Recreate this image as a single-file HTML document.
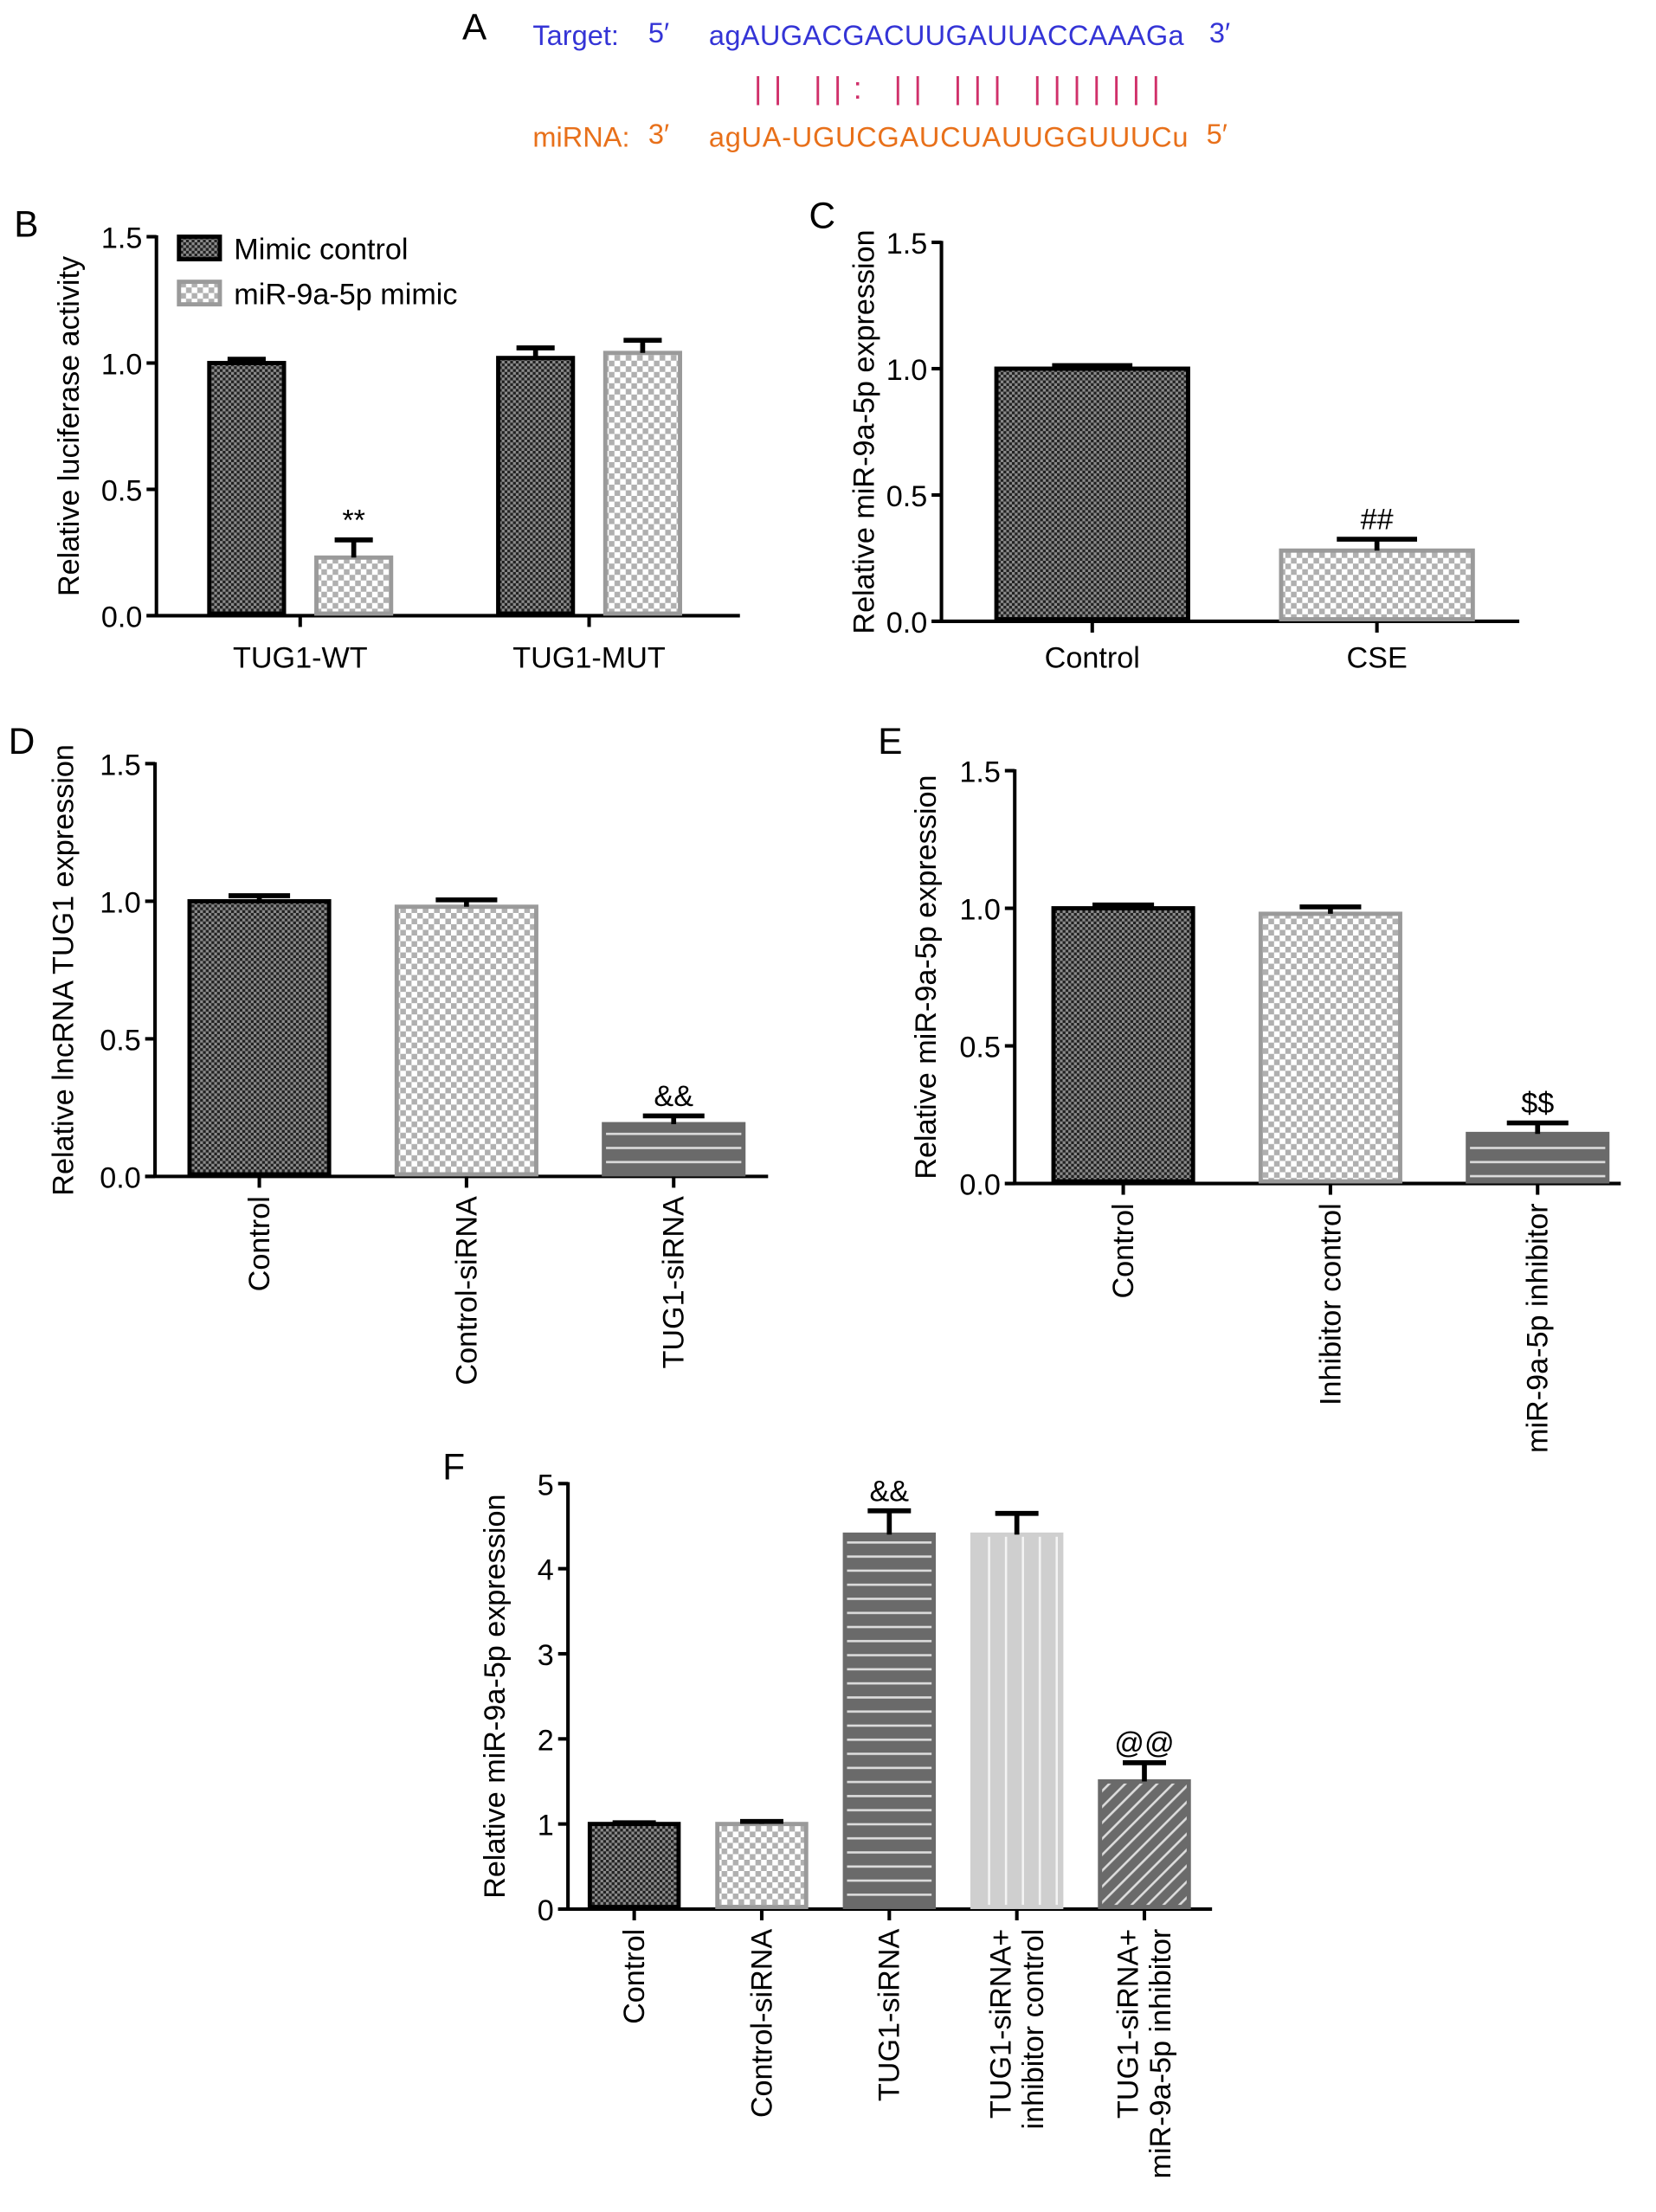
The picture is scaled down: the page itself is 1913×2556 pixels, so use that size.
<!DOCTYPE html>
<html><head><meta charset="utf-8"><style>
html,body{margin:0;padding:0;background:#fff;}
svg{display:block;font-family:"Liberation Sans",Arial,sans-serif;}
</style></head><body>
<svg id="fig" width="1913" height="2556" viewBox="0 0 1175 1570" preserveAspectRatio="none" xmlns="http://www.w3.org/2000/svg">
<defs>
<pattern id="pDark" width="4" height="4" patternUnits="userSpaceOnUse"><rect width="4" height="4" fill="#222"/><rect width="2" height="2" fill="#8a8a8a"/><rect x="2" y="2" width="2" height="2" fill="#8a8a8a"/></pattern>
<pattern id="pLight" width="8" height="8" patternUnits="userSpaceOnUse"><rect width="8" height="8" fill="#fff"/><rect width="4" height="4" fill="#b0b0b0"/><rect x="4" y="4" width="4" height="4" fill="#b0b0b0"/></pattern>
<pattern id="pHoriz" width="10" height="10" patternUnits="userSpaceOnUse"><rect width="10" height="10" fill="#6a6a6a"/><rect y="4" width="10" height="1.6" fill="#ddd"/></pattern>
<pattern id="pVert" width="12" height="10" patternUnits="userSpaceOnUse"><rect width="12" height="10" fill="#cfcfcf"/><rect x="5" width="1.6" height="10" fill="#f4f4f4"/></pattern>
<pattern id="pDiag" width="8" height="8" patternUnits="userSpaceOnUse" patternTransform="rotate(45)"><rect width="8" height="8" fill="#6a6a6a"/><rect x="3" width="1.6" height="8" fill="#ddd"/></pattern>
</defs>
<g font-size="20">
<text x="328" y="28" font-size="26">A</text>
<text x="378" y="32" fill="#3434d6">Target:</text>
<text x="460" y="30" fill="#3434d6">5′</text>
<text x="503" y="32" fill="#3434d6" textLength="337">agAUGACGACUUGAUUACCAAAGa</text>
<text x="858" y="30" fill="#3434d6">3′</text>
<text x="535" y="70" fill="#d0306a" font-size="22" textLength="288">|| ||: || ||| |||||||</text>
<text x="378" y="104" fill="#e8701a">miRNA:</text>
<text x="460" y="102" fill="#e8701a">3′</text>
<text x="503" y="104" fill="#e8701a" textLength="340">agUA-UGUCGAUCUAUUGGUUUCu</text>
<text x="856" y="102" fill="#e8701a">5′</text>
</g>
<g id="charts"></g>
</svg>
<script>
// Panel B data
const bCats = ["TUG1-WT","TUG1-MUT"];
const bCtrl = [1.0, 1.02];
const bCtrlErr = [0.015, 0.04];
const bMimic = [0.23, 1.04];
const bMimicErr = [0.07, 0.05];
const bMarks = ["", ""];
const bMimicMarks = ["**", ""];
// Panel C
const cCats = ["Control","CSE"];
const cVals = [1.0, 0.28];
const cErr = [0.012, 0.045];
const cMarks = ["", "##"];
// Panel D
const dCats = ["Control","Control-siRNA","TUG1-siRNA"];
const dVals = [1.0, 0.98, 0.19];
const dErr = [0.02, 0.025, 0.03];
const dMarks = ["", "", "&&"];
// Panel E
const eCats = ["Control","Inhibitor control","miR-9a-5p inhibitor"];
const eVals = [1.0, 0.98, 0.18];
const eErr = [0.012, 0.025, 0.04];
const eMarks = ["", "", "$$"];
// Panel F
const fCats = [["Control"],["Control-siRNA"],["TUG1-siRNA"],["TUG1-siRNA+","inhibitor control"],["TUG1-siRNA+","miR-9a-5p inhibitor"]];
const fVals = [1.0, 1.0, 4.4, 4.4, 1.5];
const fErr = [0.015, 0.03, 0.28, 0.25, 0.22];
const fMarks = ["", "", "&&", "", "@@"];
const ticks15 = ["0.0","0.5","1.0","1.5"];
const ticks5 = ["0","1","2","3","4","5"];

const NS = "http://www.w3.org/2000/svg";
const root = document.getElementById('charts');
function mk(tag, attrs, parent, text){
  const e = document.createElementNS(NS, tag);
  for (const k in attrs) e.setAttribute(k, attrs[k]);
  if (text !== undefined) e.textContent = text;
  (parent||root).appendChild(e);
  return e;
}
const STY = {
  dark:{fill:"url(#pDark)",stroke:"#000"},
  light:{fill:"url(#pLight)",stroke:"#9a9a9a"},
  horiz:{fill:"url(#pHoriz)",stroke:"#6a6a6a"},
  vert:{fill:"url(#pVert)",stroke:"#cfcfcf"},
  diag:{fill:"url(#pDiag)",stroke:"#6a6a6a"}
};
const FS = 21;
function axes(g, L, tickLabels, ymax){
  const y = v => L.y0 - (v/ymax)*(L.y0-L.yTop);
  const ya = mk('line',{x1:L.ax,y1:L.yTop-1,x2:L.ax,y2:L.y0+1,stroke:"#000","stroke-width":2.5},g);
   
  const xa = mk('line',{x1:L.ax-7,y1:L.y0,x2:L.xEnd,y2:L.y0,stroke:"#000","stroke-width":2.5},g);
   
  tickLabels.forEach((t,i)=>{
    const v = parseFloat(t);
    mk('line',{x1:L.ax-7,y1:y(v),x2:L.ax,y2:y(v),stroke:"#000","stroke-width":2.5},g);
    const tx = mk('text',{x:L.ax-10,y:y(v)+8,"text-anchor":"end","font-size":FS},g,t);
     
  });
  const yl = mk('text',{transform:`translate(${L.ylx},${(L.yTop+L.y0)/2}) rotate(-90)`,"text-anchor":"middle","font-size":FS},g,L.ytitle);
   
  const pl = mk('text',{x:L.px,y:L.py,"font-size":26},g,L.panel);
   
  return y;
}
function bar(g, y, cx, w, v, e, style, mark){
  const s = STY[style];
  const top = y(v);
  const r = mk('rect',{x:cx-w/2,y:top,width:w,height:y(0)-top-1.5,fill:s.fill,stroke:s.stroke,"stroke-width":3},g);
   
  const et = y(v+e);
  const el = mk('path',{d:`M${cx} ${top} V${et} M${cx-w*0.18-4} ${et} H${cx+w*0.18+4}`,stroke:"#000","stroke-width":3.5,fill:"none"},g);
   
  if (mark){
    const m = mk('text',{x:cx,y:et-7,"text-anchor":"middle","font-size":FS},g,mark);
     
  }
}
function xtick(g,L,cx){ mk('line',{x1:cx,y1:L.y0,x2:cx,y2:L.y0+8,stroke:"#000","stroke-width":2.5},g); }
function rotLabel(g,L,cx,lines){
  lines.forEach((ln,j)=>{
    const off = (j-(lines.length-1)/2)*23;
    const t = mk('text',{transform:`translate(${cx+7+off},${L.y0+14}) rotate(-90)`,"text-anchor":"end","font-size":FS},g,ln);
     
  });
}

// B
(function(){
  const g = mk('g',{});  
  const L = {ax:111,xEnd:525,yTop:168,y0:437,ylx:56,ytitle:"Relative luciferase activity",panel:"B",px:10,py:168};
  const y = axes(g,L,ticks15,1.5);
  bCats.forEach((c,i)=>{
    const gc = 213 + i*205;
    bar(g,y,gc-38,53,bCtrl[i],bCtrlErr[i],'dark',bMarks[i]);
    bar(g,y,gc+38,53,bMimic[i],bMimicErr[i],'light',bMimicMarks[i]);
    xtick(g,L,gc);
    const t = mk('text',{x:gc,y:L.y0+37,"text-anchor":"middle","font-size":FS},g,c);
     
  });
  const l1 = mk('rect',{x:127,y:168,width:29,height:16,fill:"url(#pDark)",stroke:"#000","stroke-width":3},g);
   
  const t1 = mk('text',{x:166,y:184,"font-size":FS},g,"Mimic control");
   
  const l2 = mk('rect',{x:127,y:200,width:29,height:16,fill:"url(#pLight)",stroke:"#9a9a9a","stroke-width":3},g);
   
  const t2 = mk('text',{x:166,y:216,"font-size":FS},g,"miR-9a-5p mimic");
   
})();
// C
(function(){
  const g = mk('g',{});  
  const L = {ax:668,xEnd:1078,yTop:172,y0:441,ylx:620,ytitle:"Relative miR-9a-5p expression",panel:"C",px:574,py:162};
  const y = axes(g,L,ticks15,1.5);
  const st = ['dark','light'];
  cCats.forEach((c,i)=>{
    const cx = 775 + i*202;
    bar(g,y,cx,136,cVals[i],cErr[i],st[i],cMarks[i]);
    xtick(g,L,cx);
    const t = mk('text',{x:cx,y:L.y0+33,"text-anchor":"middle","font-size":FS},g,c);
     
  });
})();
// D
(function(){
  const g = mk('g',{});  
  const L = {ax:110,xEnd:545,yTop:542,y0:835,ylx:52,ytitle:"Relative lncRNA TUG1 expression",panel:"D",px:6,py:535};
  const y = axes(g,L,ticks15,1.5);
  const st = ['dark','light','horiz'];
  dCats.forEach((c,i)=>{
    const cx = 184 + i*147;
    bar(g,y,cx,99,dVals[i],dErr[i],st[i],dMarks[i]);
    xtick(g,L,cx);
    rotLabel(g,L,cx,[c]);
  });
})();
// E
(function(){
  const g = mk('g',{});  
  const L = {ax:720,xEnd:1150,yTop:547,y0:840,ylx:664,ytitle:"Relative miR-9a-5p expression",panel:"E",px:623,py:535};
  const y = axes(g,L,ticks15,1.5);
  const st = ['dark','light','horiz'];
  eCats.forEach((c,i)=>{
    const cx = 797 + i*147;
    bar(g,y,cx,99,eVals[i],eErr[i],st[i],eMarks[i]);
    xtick(g,L,cx);
    rotLabel(g,L,cx,[c]);
  });
})();
// F
(function(){
  const g = mk('g',{});  
  const L = {ax:403,xEnd:860,yTop:1053,y0:1355,ylx:358,ytitle:"Relative miR-9a-5p expression",panel:"F",px:314,py:1050};
  const y = axes(g,L,ticks5,5);
  const st = ['dark','light','horiz','vert','diag'];
  fCats.forEach((c,i)=>{
    const cx = 450 + i*90.5;
    bar(g,y,cx,63,fVals[i],fErr[i],st[i],fMarks[i]);
    xtick(g,L,cx);
    rotLabel(g,L,cx,c);
  });
})();
</script>
</body></html>
